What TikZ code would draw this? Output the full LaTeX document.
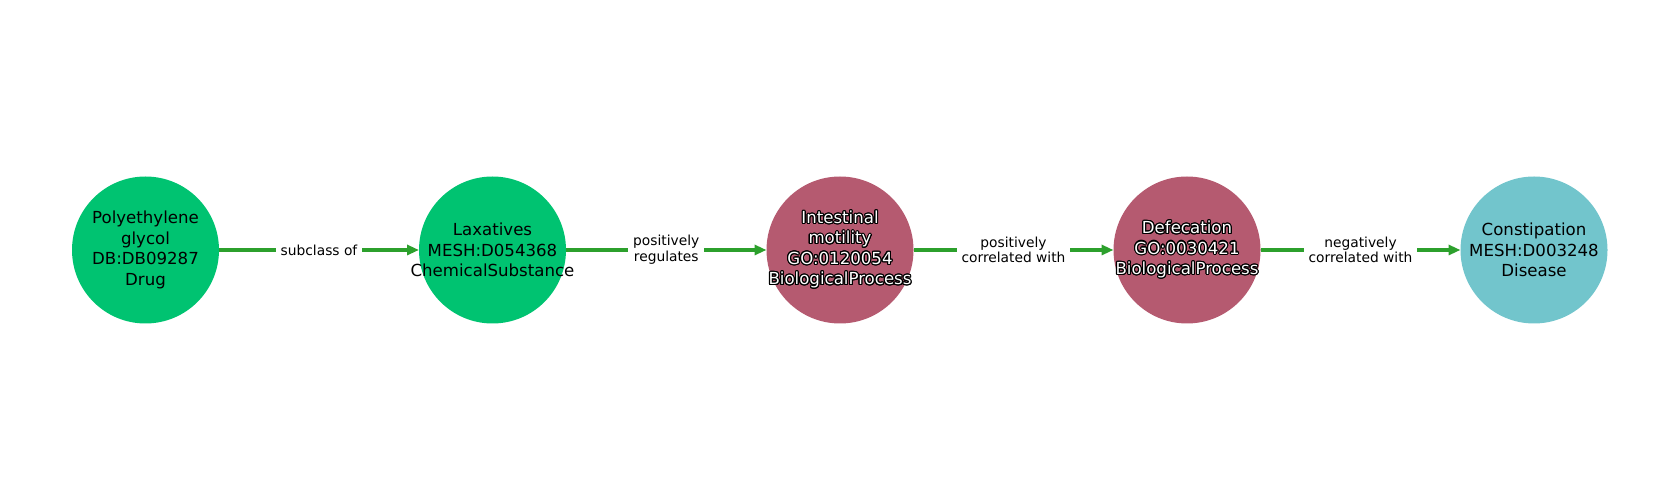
\documentclass[tikz,border=0pt]{standalone}
\usepackage{fontspec}
\setmainfont{DejaVu Sans}
\usepackage{contour}
\contourlength{1.1pt}
\usetikzlibrary{arrows.meta}
\definecolor{ngreen}{HTML}{00C371}
\definecolor{nrose}{HTML}{B55A70}
\definecolor{nteal}{HTML}{72C5CC}
\definecolor{egreen}{HTML}{2CA02C}
\newcommand{\wo}[1]{\contour{black}{#1}}
\begin{document}
\begin{tikzpicture}[x=1pt,y=1pt,
  entity/.style={circle,minimum size=147pt,inner sep=0pt,outer sep=0pt},
  etext/.style={inner sep=0pt,align=center,font=\fontsize{16.6}{20.4}\selectfont},
  rel/.style={draw=egreen,line width=4pt,-{Triangle[length=12pt,width=10pt]}},
  lbl/.style={fill=white,inner sep=5pt,align=center,font=\fontsize{13.8}{15.7}\selectfont}]
\useasboundingbox (0,0) rectangle (1680,500);
\node[entity,fill=ngreen] (n1) at (145.5,250) {};
\node[entity,fill=ngreen] (n2) at (492.5,250) {};
\node[entity,fill=nrose] (n3) at (840,250) {};
\node[entity,fill=nrose] (n4) at (1187,250) {};
\node[entity,fill=nteal] (n5) at (1534,250) {};
\node[etext] (t1) at (n1) {Polyethylene\\glycol\\DB:DB09287\\Drug};
\node[etext] (t2) at (n2) {Laxatives\\MESH:D054368\\ChemicalSubstance};
\node[etext,text=white] (t3) at (n3) {\wo{Intestinal}\\\wo{motility}\\\wo{GO:0120054}\\\wo{BiologicalProcess}};
\node[etext,text=white] (t4) at (n4) {\wo{Defecation}\\\wo{GO:0030421}\\\wo{BiologicalProcess}};
\node[etext] (t5) at (n5) {Constipation\\MESH:D003248\\Disease};
\draw[rel] (n1) -- node[lbl] {subclass of} (n2);
\draw[rel] (n2) -- node[lbl] {positively\\regulates} (n3);
\draw[rel] (n3) -- node[lbl] {positively\\correlated with} (n4);
\draw[rel] (n4) -- node[lbl] {negatively\\correlated with} (n5);
\end{tikzpicture}
\end{document}
